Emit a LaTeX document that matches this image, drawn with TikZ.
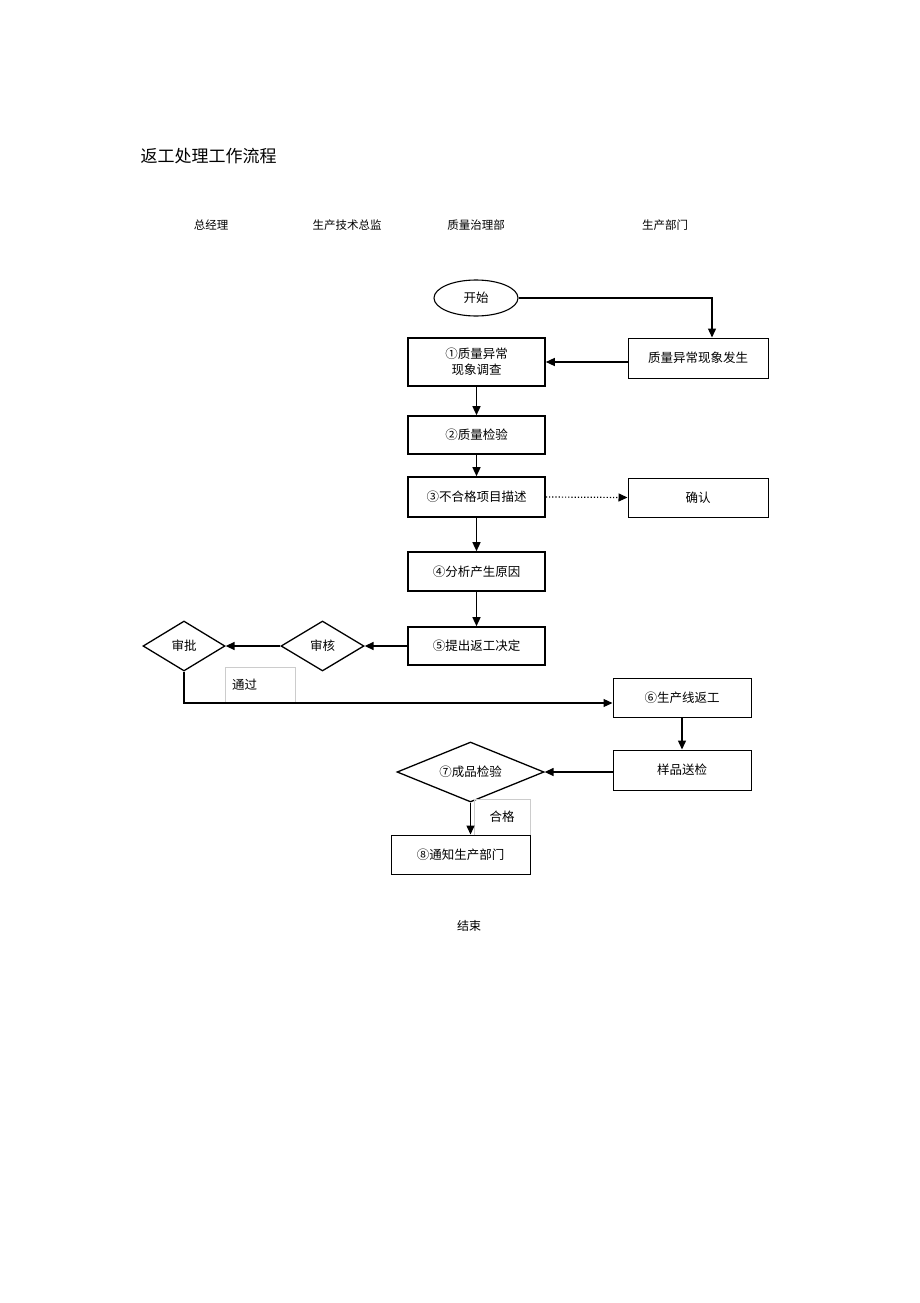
\documentclass[tikz,border=0pt]{standalone}
\usepackage{fontspec}
\setmainfont{Noto Sans CJK SC}
\usetikzlibrary{shapes.geometric,arrows.meta}

\begin{document}
\begin{tikzpicture}[x=1pt, y=-1pt, >={Triangle[length=9pt,width=8pt]},
    box/.style={draw, line width=1.6pt, minimum width=137pt, minimum height=39pt, inner sep=0pt, align=center, font=\fontsize{12.5}{16}\selectfont},
    thinbox/.style={box, line width=1pt},
    choice/.style={draw, diamond, aspect=1.65, line width=1.3pt, inner sep=0pt, font=\fontsize{12.5}{15}\selectfont},
    tag/.style={draw=black!20, line width=0.6pt, inner sep=0pt, font=\fontsize{12.5}{15}\selectfont},
    link/.style={->, line width=1.4pt}]
    \useasboundingbox (0,0) rectangle (920,1303);
    % title and columns
    \node[anchor=west, font=\fontsize{17}{20}\selectfont] (title) at (137,156) {返工处理工作流程};
    \foreach \x/\name in {211/总经理, 347/生产技术总监, 476/质量治理部, 665/生产部门}
        \node[font=\fontsize{11.5}{14}\selectfont] at (\x,225) {\name};
    % nodes
    \node[draw, ellipse, line width=1.1pt, minimum width=84pt, minimum height=36pt, font=\fontsize{12.5}{15}\selectfont] (start) at (476,298) {开始};
    \node[thinbox, minimum width=140pt, minimum height=40pt] (occur) at (698,358) {质量异常现象发生};
    \node[box, minimum height=48pt] (s1) at (476.5,362) {①质量异常\\现象调查};
    \node[box, minimum height=38pt] (s2) at (476.5,435) {②质量检验};
    \node[box, minimum height=40pt] (s3) at (476.5,497) {③不合格项目描述};
    \node[thinbox, minimum width=140pt, minimum height=39pt] (ok) at (698,497.5) {确认};
    \node[box, minimum height=39pt] (s4) at (476.5,571.5) {④分析产生原因};
    \node[box, minimum height=38pt] (s5) at (476.5,646) {⑤提出返工决定};
    \node[choice, minimum width=83pt, minimum height=50pt] (check) at (322.5,646) {审核};
    \node[choice, minimum width=82pt, minimum height=50pt] (approve) at (184,646) {审批};
    \node[thinbox, minimum width=138pt, minimum height=39pt] (s6) at (682,697.5) {⑥生产线返工};
    \node[thinbox, minimum width=138pt, minimum height=40pt] (sample) at (682,770) {样品送检};
    \node[choice, minimum width=147pt, minimum height=60pt] (s7) at (470.5,772) {⑦成品检验};
    \node[thinbox, minimum width=139pt, minimum height=39pt] (s8) at (460.5,854.5) {⑧通知生产部门};
    \node[font=\fontsize{12}{14}\selectfont] (end) at (469,926) {结束};
    \node[tag, minimum width=70pt, minimum height=36pt, text width=56pt] (pass) at (260,685) {通过};
    \node[tag, draw=none, minimum width=56pt, minimum height=36pt] (good) at (502,817) {合格};
    \draw[black!20, line width=0.6pt] (474,835) -- (474,799) -- (530,799) -- (530,835);
    % connectors
    \draw[link] (start.east) -| (occur.north -| 712,0);
    \draw[link] (occur.west |- s1) -- (s1.east);
    \foreach \a/\b in {s1/s2, s2/s3, s3/s4, s4/s5}
        \draw[link] (\a) -- (\b);
    \draw[->, line width=1.2pt, dotted] (s3.east) -- (ok.west);
    \draw[link] (s5.west) -- (check.east);
    \draw[link] (check.west) -- (approve.east);
    \draw[link, line width=1.1pt] (approve.south) |- (s6.west |- 0,703);
    \draw[link] (s6) -- (sample);
    \draw[link] (sample.west |- s7) -- (s7.east);
    \draw[link] (s7.south) -- (s8.north -| s7.south);
\end{tikzpicture}
\end{document}
